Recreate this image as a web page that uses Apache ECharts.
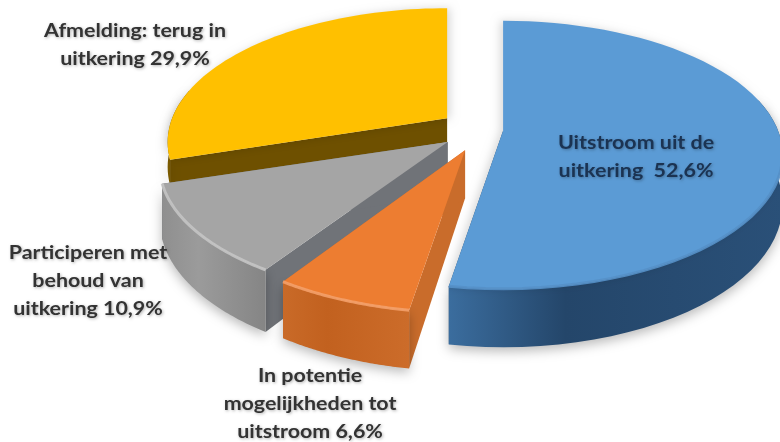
<!DOCTYPE html>
<html>
<head>
<meta charset="utf-8">
<style>
  html, body { margin: 0; padding: 0; background: #fff; }
  #chart { width: 780px; height: 442px; filter: blur(0.6px); }
</style>
<script src="https://cdn.jsdelivr.net/npm/echarts@6/dist/echarts.min.js"></script>
</head>
<body>
<div id="chart"></div>
<script>
// data, clockwise from 12 o'clock
const categories = [
  'Uitstroom uit de\nuitkering ',
  'In potentie\nmogelijkheden tot\nuitstroom',
  'Participeren met\nbehoud van\nuitkering',
  'Afmelding: terug in\nuitkering'
];
const shares = [52.6, 6.6, 10.9, 29.9];

// looks
const explode = [0.077, 0.17, 0.157, 0.157];
const radiusX = [1, 1.03, 1.03, 1];
const radiusY = [1, 1.03, 1, 1];
const depthScale = [1, 1, 1.1, 0.5];
const topColors = ['#5b9bd5', '#ed7d31', '#a5a5a5', '#ffc000'];
const wallColors = [['#3b6d9e', '#24466a', '#2a5078'], ['#c96a28', '#c2611f', '#cc6c2a'], ['#8f8f8f', '#9b9b9b', '#858585'], ['#7a5a00', '#7a5a00', '#7a5a00']];
const cutColors = ['#2d557c', '#c96c2b', '#707378', '#6e5000'];
const bevelColors = ['#5590c8', '#f3a06a', '#c4c4c4', '#ffc000'];
const labelPos = [[636, 157, '#1b3352'], [310, 404, '#333'], [88, 281, '#333'], [135, 45, '#333']];
const drawOrder = [3, 0, 2, 1];

const cx = 482, cy = 130, rx = 275, ry = 129.7, persp = 0.179, depth = 48;

function pct(v) { return v.toFixed(1).replace('.', ',') + '%'; }

// slice angle range comes from the shares
function sliceRange(i) {
  const total = shares.reduce((a, b) => a + b, 0);
  const before = shares.slice(0, i).reduce((a, b) => a + b, 0);
  return [before / total * 2 * Math.PI, (before + shares[i]) / total * 2 * Math.PI];
}

function project(i, ax, ay, angle, drop) {
  const u = Math.sin(angle), v = -Math.cos(angle);
  const k = 1 / (1 - persp * v);
  return [ax + rx * radiusX[i] * u * k, ay + ry * radiusY[i] * v * k + (drop ? depth * depthScale[i] * k : 0)];
}

function arc(i, ax, ay, a0, a1, drop) {
  const pts = [];
  const n = 60;
  for (let j = 0; j <= n; j++) pts.push(project(i, ax, ay, a0 + (a1 - a0) * j / n, drop));
  return pts;
}

function renderSlice(params, api) {
  const i = api.value(0);
  const [a0, a1] = sliceRange(i);
  const mid = (a0 + a1) / 2;
  const ax = cx + explode[i] * rx * Math.sin(mid);
  const ay = cy - explode[i] * ry * Math.cos(mid) * 0.98;

  const top = arc(i, ax, ay, a0, a1, false);
  const bottom = arc(i, ax, ay, a0, a1, true);
  const apexDown = [ax, ay + depth * depthScale[i]];
  const children = [];

  // cut faces
  [[top[0], bottom[0]], [top[top.length - 1], bottom[bottom.length - 1]]].forEach(function (e) {
    children.push({
      type: 'polygon', silent: true,
      shape: { points: [[ax, ay], e[0], e[1], apexDown] },
      style: { fill: cutColors[i] }
    });
  });

  // outer wall, only the part that faces the front
  const front = [];
  const edge = [];
  for (let j = 0; j < top.length; j++) {
    const a = a0 + (a1 - a0) * j / (top.length - 1);
    if (Math.cos(a) < 0.25) front.push(j);
    if (Math.cos(a) < -0.1) edge.push(top[j]);
  }
  if (front.length) {
    const t = front.map(j => top[j]);
    const b = front.map(j => bottom[j]).reverse();
    const w = wallColors[i];
    children.push({
      type: 'polygon', silent: true,
      shape: { points: t.concat(b) },
      style: {
        fill: new echarts.graphic.LinearGradient(0, 0, 1, 0, [
          { offset: 0, color: w[0] }, { offset: 0.35, color: w[1] }, { offset: 1, color: w[2] }
        ]),
        shadowBlur: 12, shadowColor: 'rgba(0,0,0,0.28)', shadowOffsetY: 4
      }
    });
    if (i !== 3 && edge.length) {
      children.push({
        type: 'polyline', silent: true, z2: 3,
        shape: { points: edge },
        style: { fill: 'none', stroke: bevelColors[i], lineWidth: 3, opacity: 0.9 }
      });
    }
  }

  const topStyle = { fill: topColors[i] };
  if (i === 0 || i === 3) {
    topStyle.shadowBlur = 8;
    topStyle.shadowColor = 'rgba(0,0,0,0.15)';
    topStyle.shadowOffsetX = i === 0 ? -3 : 3;
  }
  children.push({
    type: 'polygon', silent: true, z2: 2,
    shape: { points: [[ax, ay]].concat(top) },
    style: topStyle
  });

  return { type: 'group', children: children };
}

function renderLabel(params, api) {
  const i = api.value(0);
  return {
    type: 'text', silent: true,
    x: labelPos[i][0], y: labelPos[i][1],
    scaleX: 1.19,
    style: {
      text: categories[i] + ' ' + pct(shares[i]),
      fill: labelPos[i][2],
      font: 'bold 18px Lato, sans-serif',
      lineHeight: 28,
      align: 'center', verticalAlign: 'middle',
      textShadowColor: 'rgba(0,0,0,0.3)', textShadowBlur: 3, textShadowOffsetX: 1, textShadowOffsetY: 1
    }
  };
}

const chart = echarts.init(document.getElementById('chart'), null, { width: 780, height: 442 });
chart.setOption({
  animation: false,
  backgroundColor: '#fff',
  series: [
    { type: 'custom', coordinateSystem: 'none', renderItem: renderSlice, data: drawOrder.map(i => [i, shares[i]]), z: 2 },
    { type: 'custom', coordinateSystem: 'none', renderItem: renderLabel, data: categories.map((c, i) => [i]), z: 5 }
  ]
});
</script>
</body>
</html>
